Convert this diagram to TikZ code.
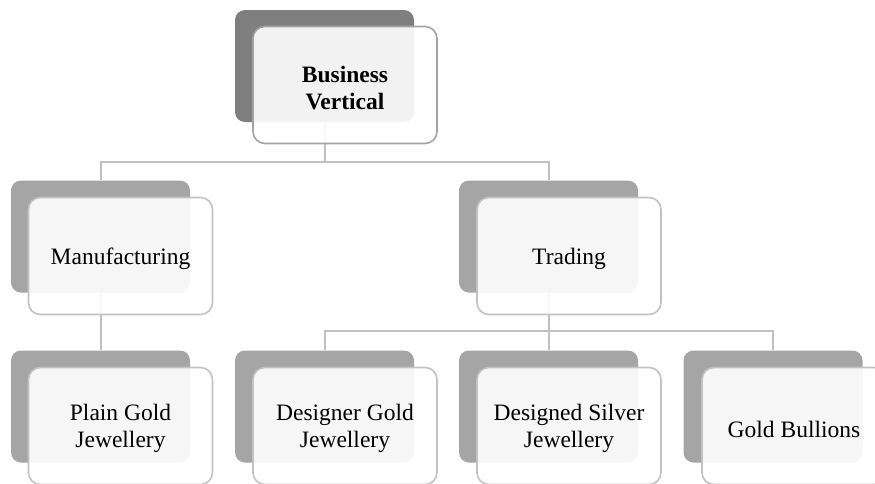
\documentclass[tikz,border=0pt]{standalone}
\usepackage{fontspec}
\setmainfont{Liberation Serif}
\usetikzlibrary{backgrounds}
\definecolor{backdark}{HTML}{7F7F7F}
\definecolor{backmid}{HTML}{A5A5A5}
\definecolor{edgedark}{HTML}{A3A3A3}
\definecolor{edgelight}{HTML}{C2C2C2}
\definecolor{connc}{HTML}{C0C0C0}
\tikzset{
  backbox/.style={fill=backmid, draw=none, rounded corners=10pt, minimum width=179pt, minimum height=112pt, inner sep=0pt},
  frontbox/.style={fill=white, fill opacity=0.9, text opacity=1, draw=edgelight, line width=1.6pt, rounded corners=12pt, minimum width=184pt, minimum height=117pt, inner sep=0pt, align=center, font=\fontsize{23.5}{27}\selectfont},
  oneline/.style={text height=23pt},
  twoline/.style={text height=49pt},
  conn/.style={draw=connc, line width=2pt},
}
\begin{document}
\begin{tikzpicture}[x=1pt,y=-1pt]
\useasboundingbox (0,0) rectangle (875,483);
% top
\node[backbox, fill=backdark] (tb) at (324.5,66) {};
\node[frontbox, twoline, draw=edgedark] (tf) at (345,85) {\textbf{Business}\\\textbf{Vertical}};
% second row
\node[backbox] (mb) at (100.5,236.5) {};
\node[frontbox, oneline] (mf) at (120.5,256) {Manufacturing};
\node[backbox] (trb) at (548.5,236.5) {};
\node[frontbox, oneline] (trf) at (569,256) {Trading};
% third row
\node[backbox] (pb) at (100.5,406.5) {};
\node[frontbox, twoline] (pf) at (120.5,426) {Plain Gold\\Jewellery};
\node[backbox] (db) at (324.5,406.5) {};
\node[frontbox, twoline] (df) at (345,426) {Designer Gold\\Jewellery};
\node[backbox] (sb) at (548.5,406.5) {};
\node[frontbox, twoline] (sf) at (569,426) {Designed Silver\\Jewellery};
\node[backbox] (gb) at (773,406.5) {};
\node[frontbox, oneline] (gf) at (794,426) {Gold Bullions};
\begin{pgfonlayer}{background}
\draw[conn] (tb.south) -- ++(0,40) coordinate (h1) -| (mb.north);
\draw[conn] (h1) -| (trb.north);
\draw[conn] (mb.south) -- (pb.north);
\draw[conn] (trb.south) -- ++(0,38) coordinate (h2) -| (db.north);
\draw[conn] (h2) -| (gb.north);
\draw[conn] (h2) -- (sb.north);
\end{pgfonlayer}
\end{tikzpicture}
\end{document}
